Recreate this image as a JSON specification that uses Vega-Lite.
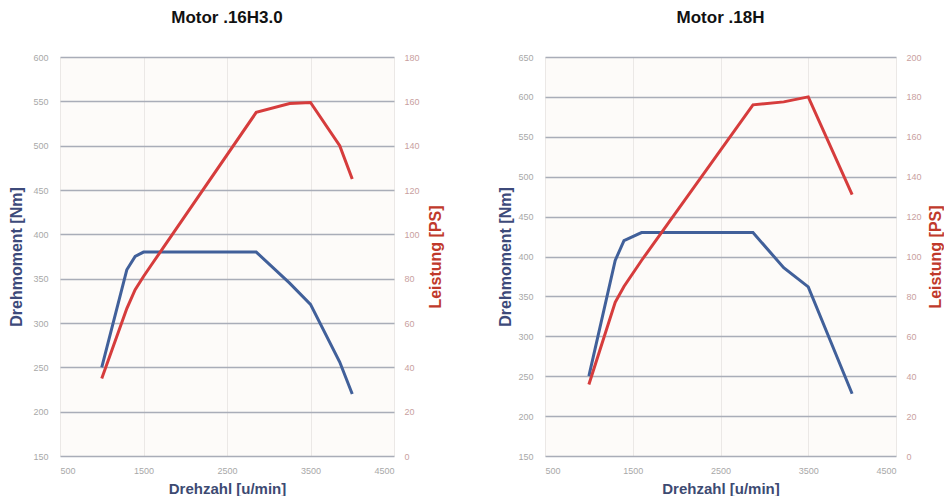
{
  "$schema": "https://vega.github.io/schema/vega-lite/v6.json",
  "background": "white",
  "padding": {"left": 8, "top": 9, "right": 0, "bottom": 0},
  "config": {
    "font": "Liberation Sans",
    "view": {"stroke": null, "fill": "#fdfbf9"},
    "axis": {
      "labelFont": "Liberation Sans",
      "titleFont": "Liberation Sans",
      "labelFontSize": 9,
      "labelColor": "#a8a8a8",
      "domain": false,
      "ticks": false,
      "titleFontSize": 16,
      "titleFontWeight": "bold"
    },
    "title": {"font": "Liberation Sans", "fontSize": 17, "fontWeight": "bold", "color": "#111111"}
  },
  "datasets": {
    "m16": [
      {"rpm": 1000, "torque": 250, "power": 35},
      {"rpm": 1300, "torque": 360, "power": 66.5},
      {"rpm": 1400, "torque": 375, "power": 75},
      {"rpm": 1500, "torque": 380, "power": 81},
      {"rpm": 1600, "torque": 380, "power": 86.5},
      {"rpm": 2850, "torque": 380, "power": 155},
      {"rpm": 3250, "torque": 345, "power": 159},
      {"rpm": 3500, "torque": 321, "power": 159.5},
      {"rpm": 3850, "torque": 256, "power": 140},
      {"rpm": 4000, "torque": 220, "power": 125}
    ],
    "m18": [
      {"rpm": 1000, "torque": 250, "power": 35.8},
      {"rpm": 1300, "torque": 395, "power": 77},
      {"rpm": 1400, "torque": 420, "power": 85},
      {"rpm": 1600, "torque": 430, "power": 98},
      {"rpm": 2870, "torque": 430, "power": 176},
      {"rpm": 3220, "torque": 386, "power": 177.5},
      {"rpm": 3500, "torque": 362, "power": 180},
      {"rpm": 4000, "torque": 228, "power": 131}
    ]
  },
  "bounds": "flush",
  "spacing": 151,
  "hconcat": [
    {
      "data": {"name": "m16"},
      "title": {"text": "Motor .16H3.0", "offset": 26, "frame": "group"},
      "width": 334,
      "height": 399,
      "encoding": {
        "x": {
          "field": "rpm", "type": "quantitative",
          "scale": {"domain": [500, 4500], "nice": false, "zero": false},
          "axis": {"values": [500, 1500, 2500, 3500, 4500], "format": "d", "grid": true, "gridColor": "#ebe8e6", "gridWidth": 1,
                   "labelPadding": 10, "title": "Drehzahl [u/min]", "titleColor": "#3d4a72", "titleFontSize": 15, "titlePadding": 6}
        }
      },
      "layer": [
        {
          "mark": {"type": "line", "color": "#41609a", "strokeWidth": 3},
          "encoding": {
            "y": {
              "field": "torque", "type": "quantitative",
              "scale": {"domain": [150, 600], "nice": false, "zero": false},
              "axis": {"orient": "left", "values": [150, 200, 250, 300, 350, 400, 450, 500, 550, 600],
                       "grid": true, "gridColor": "#a9adb8", "gridWidth": 1.5, "labelPadding": 12,
                       "title": "Drehmoment [Nm]", "titleColor": "#3d4a7a", "titlePadding": 8}
            }
          }
        },
        {
          "mark": {"type": "line", "color": "#d63c3c", "strokeWidth": 3},
          "encoding": {
            "y": {
              "field": "power", "type": "quantitative",
              "scale": {"domain": [0, 180], "nice": false},
              "axis": {"orient": "right", "values": [0, 20, 40, 60, 80, 100, 120, 140, 160, 180],
                       "grid": false, "labelPadding": 10, "labelColor": "#c9a0a0",
                       "title": "Leistung [PS]", "titleColor": "#c0392b", "titleAngle": 270, "titlePadding": 24}
            }
          }
        }
      ],
      "resolve": {"scale": {"y": "independent"}}
    },
    {
      "data": {"name": "m18"},
      "title": {"text": "Motor .18H", "offset": 26, "frame": "group"},
      "width": 351,
      "height": 399,
      "encoding": {
        "x": {
          "field": "rpm", "type": "quantitative",
          "scale": {"domain": [500, 4500], "nice": false, "zero": false},
          "axis": {"values": [500, 1500, 2500, 3500, 4500], "format": "d", "grid": true, "gridColor": "#ebe8e6", "gridWidth": 1,
                   "labelPadding": 10, "title": "Drehzahl [u/min]", "titleColor": "#3d4a72", "titleFontSize": 15, "titlePadding": 6}
        }
      },
      "layer": [
        {
          "mark": {"type": "line", "color": "#41609a", "strokeWidth": 3},
          "encoding": {
            "y": {
              "field": "torque", "type": "quantitative",
              "scale": {"domain": [150, 650], "nice": false, "zero": false},
              "axis": {"orient": "left", "values": [150, 200, 250, 300, 350, 400, 450, 500, 550, 600, 650],
                       "grid": true, "gridColor": "#a9adb8", "gridWidth": 1.5, "labelPadding": 12,
                       "title": "Drehmoment [Nm]", "titleColor": "#3d4a7a", "titlePadding": 4}
            }
          }
        },
        {
          "mark": {"type": "line", "color": "#d63c3c", "strokeWidth": 3},
          "encoding": {
            "y": {
              "field": "power", "type": "quantitative",
              "scale": {"domain": [0, 200], "nice": false},
              "axis": {"orient": "right", "values": [0, 20, 40, 60, 80, 100, 120, 140, 160, 180, 200],
                       "grid": false, "labelPadding": 10, "labelColor": "#c9a0a0",
                       "title": "Leistung [PS]", "titleColor": "#c0392b", "titleAngle": 270, "titlePadding": 22}
            }
          }
        }
      ],
      "resolve": {"scale": {"y": "independent"}}
    }
  ]
}
